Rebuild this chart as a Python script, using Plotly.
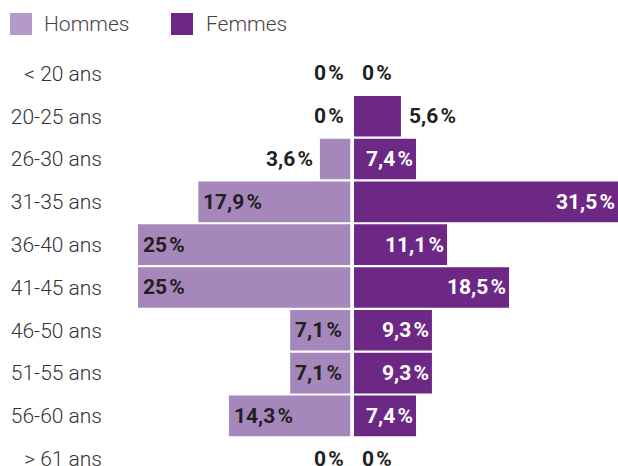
import plotly.graph_objects as go

# ---- data ----
categories = ["< 20 ans", "20-25 ans", "26-30 ans", "31-35 ans", "36-40 ans",
              "41-45 ans", "46-50 ans", "51-55 ans", "56-60 ans", "> 61 ans"]
hommes = [0, 0, 3.6, 17.9, 25, 25, 7.1, 7.1, 14.3, 0]
femmes = [0, 5.6, 7.4, 31.5, 11.1, 18.5, 9.3, 9.3, 7.4, 0]
series_names = ["Hommes", "Femmes"]

# ---- style ----
W, H = 618, 466
ML, MR, MT, MB = 106, 0, 52, 0
C_H = "#a587bb"
C_H_LEG = "#b39ac8"
C_F = "#6d2886"
TXT_DARK = "#231f20"
FONT = "Roboto, Liberation Sans, Arial, sans-serif"
INSIDE_MIN = 7.0

def fmt(v):
    s = f"{v:.1f}".replace(".", ",")
    if s.endswith(",0"):
        s = s[:-2]
    return s + "\u200a%"

pw = W - ML - MR
ph = H - MT - MB
def px_x(x):
    return (x - ML) / pw
def px_y(y):
    return (H - MB - y) / ph

fig = go.Figure()

fig.add_trace(go.Bar(y=categories, x=hommes, orientation="h", xaxis="x", yaxis="y",
                     marker=dict(color=C_H, line=dict(width=0)), showlegend=False,
                     hoverinfo="skip", name=series_names[0]))
fig.add_trace(go.Bar(y=categories, x=femmes, orientation="h", xaxis="x2", yaxis="y",
                     marker=dict(color=C_F, line=dict(width=0)), showlegend=False,
                     hoverinfo="skip", name=series_names[1]))

annots = []
lab_font = dict(family=FONT, size=21, weight="bold")
for cat, v in zip(categories, hommes):
    inside = v >= INSIDE_MIN
    annots.append(dict(xref="x", yref="y", x=v, y=cat, text=fmt(v), showarrow=False,
                       xanchor="left" if inside else "right",
                       xshift=3 if inside else -5, yanchor="middle",
                       font=dict(lab_font, color=TXT_DARK)))
for cat, v in zip(categories, femmes):
    inside = v >= INSIDE_MIN
    annots.append(dict(xref="x2", yref="y", x=v, y=cat, text=fmt(v), showarrow=False,
                       xanchor="right" if inside else "left",
                       xshift=-1 if inside else 6, yanchor="middle",
                       font=dict(lab_font, color="white" if inside else TXT_DARK)))

split_h = px_x(350.5)
split_f = px_x(354)
fig.update_layout(
    width=W, height=H,
    margin=dict(l=ML, r=MR, t=MT, b=MB),
    plot_bgcolor="white", paper_bgcolor="white",
    bargap=0.05,
    xaxis=dict(domain=[0, split_h], range=[(350.5 - ML) / 8.5, 0], visible=False,
               showgrid=False, zeroline=False, automargin=False),
    xaxis2=dict(domain=[split_f, 1], range=[0, 31.5], visible=False,
                showgrid=False, zeroline=False, anchor="y", automargin=False),
    yaxis=dict(type="category", range=[9.17, -0.5], showgrid=False, zeroline=False,
               showline=False, ticks="", anchor="x", ticklabelstandoff=3,
               automargin=False,
               tickfont=dict(family=FONT, size=21, color="#333333", weight=300)),
)

# legend (manual)
legend_items = [(10, C_H_LEG, 42), (171, C_F, 204)]
shapes = []
for (sx, col, tx), name in zip(legend_items, series_names):
    shapes.append(dict(type="rect", xref="paper", yref="paper",
                       x0=px_x(sx), x1=px_x(sx + 22), y0=px_y(35), y1=px_y(13),
                       fillcolor=col, line=dict(width=0)))
    annots.append(dict(xref="paper", yref="paper", x=px_x(tx), y=px_y(24),
                       xanchor="left", yanchor="middle", text=name, showarrow=False,
                       font=dict(family=FONT, size=21, color="#444444", weight=300)))
fig.update_layout(shapes=shapes, annotations=annots)

fig.write_html("out.html")
